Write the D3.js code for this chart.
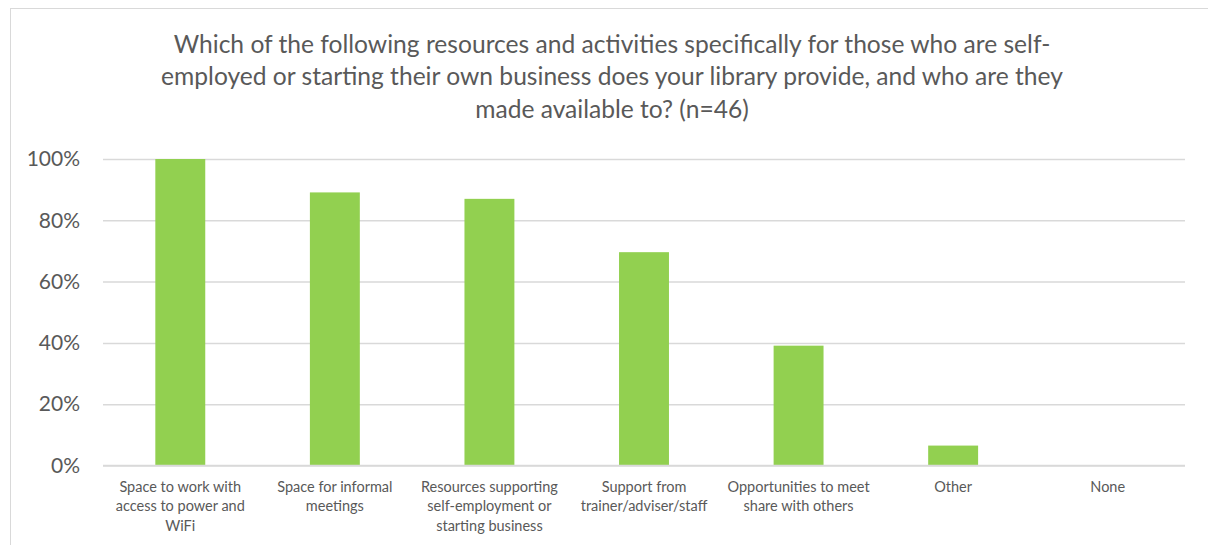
<!DOCTYPE html>
<html>
<head>
<meta charset="utf-8">
<script src="https://cdn.jsdelivr.net/npm/d3@7"></script>
<style>
  html, body { margin: 0; padding: 0; background: #fff; }
  svg { display: block; font-family: Lato, "Open Sans", sans-serif; }
</style>
</head>
<body>
<svg id="chart" width="1208" height="545"></svg>
<script>
// Survey responses (n=46): share of libraries offering each resource
const categories = [
  "Space to work with\naccess to power and\nWiFi",
  "Space for informal\nmeetings",
  "Resources supporting\nself-employment or\nstarting business",
  "Support from\ntrainer/adviser/staff",
  "Opportunities to meet\nshare with others",
  "Other",
  "None"
];
const shares = [1.0, 0.891, 0.870, 0.696, 0.391, 0.065, 0.0];
const yTicks = [0, 0.2, 0.4, 0.6, 0.8, 1.0];
const titleLines = [
  "Which of the following resources and activities specifically for those who are self-",
  "employed or starting their own business does your library provide, and who are they",
  "made available to? (n=46)"
];

const svg = d3.select("#chart");
const textColor = "#595959";
const gridColor = "#D9D9D9";

// chart frame (extends past the right and bottom edges)
svg.append("rect")
  .attr("x", 10.5).attr("y", 8.5)
  .attr("width", 1400).attr("height", 700)
  .attr("fill", "none").attr("stroke", gridColor).attr("stroke-width", 1);

const plot = { left: 103, right: 1185, top: 159, bottom: 465.5 };

const x = d3.scaleBand()
  .domain(categories)
  .range([plot.left, plot.right])
  .paddingInner(0.677)
  .paddingOuter(0.3385);

const y = d3.scaleLinear().domain([0, 1]).range([plot.bottom, plot.top]);

// title
svg.append("text")
  .attr("text-anchor", "middle")
  .attr("fill", textColor)
  .style("font-size", "24.6px")
  .selectAll("tspan")
  .data(titleLines)
  .join("tspan")
  .attr("x", 612)
  .attr("y", (d, i) => 53 + i * 32.3)
  .text(d => d);

// gridlines + y labels
const yAxis = d3.axisLeft(y)
  .tickValues(yTicks)
  .tickSize(-(plot.right - plot.left))
  .tickPadding(23)
  .tickFormat(d3.format(".0%"));

const gy = svg.append("g")
  .attr("transform", `translate(${plot.left},0)`)
  .call(yAxis);
gy.select(".domain").remove();
gy.selectAll(".tick line").attr("stroke", gridColor).attr("stroke-width", 1.5);
gy.selectAll(".tick text")
  .attr("fill", textColor)
  .style("font-size", "21px")
  .style("font-family", "Lato, sans-serif");

// bars
svg.append("g")
  .selectAll("rect")
  .data(shares)
  .join("rect")
  .attr("x", (d, i) => x(categories[i]))
  .attr("width", x.bandwidth())
  .attr("y", d => y(d))
  .attr("height", d => y(0) - y(d))
  .attr("fill", "#92D050");

// baseline redrawn over bars
svg.append("line")
  .attr("x1", plot.left).attr("x2", plot.right)
  .attr("y1", y(0)).attr("y2", y(0))
  .attr("stroke", gridColor).attr("stroke-width", 1.5);

// category labels
const gx = svg.append("g");
categories.forEach(c => {
  const t = gx.append("text")
    .attr("text-anchor", "middle")
    .attr("fill", textColor)
    .style("font-size", "14.5px");
  c.split("\n").forEach((line, i) => {
    t.append("tspan")
      .attr("x", x(c) + x.bandwidth() / 2)
      .attr("y", 491.5 + i * 19.6)
      .text(line);
  });
});
</script>
</body>
</html>
